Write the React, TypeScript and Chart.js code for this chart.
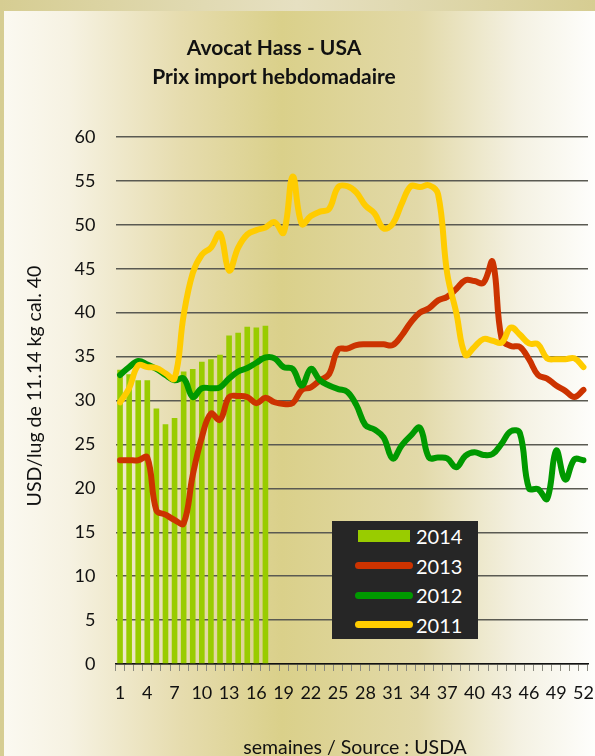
import React, { useEffect, useRef } from "react";
import { Chart, registerables } from "chart.js";

Chart.register(...registerables);

// ---- data ----
const weeks = [
  "1", "2", "3", "4", "5", "6", "7", "8", "9", "10", "11", "12", "13",
  "14", "15", "16", "17", "18", "19", "20", "21", "22", "23", "24", "25", "26",
  "27", "28", "29", "30", "31", "32", "33", "34", "35", "36", "37", "38", "39",
  "40", "41", "42", "43", "44", "45", "46", "47", "48", "49", "50", "51", "52",
];
const labelEvery = 3;
const yTicks = { min: 0, max: 60, step: 5 };

const prices2014 = [
  33.5, 33.0, 32.3, 32.3, 29.1, 27.3, 28.0, 33.3, 33.6, 34.4, 34.7, 35.2, 37.4,
  37.7, 38.4, 38.3, 38.5,
];
const prices2013 = [
  23.2, 23.2, 23.2, 23.5, 17.5, 17.0, 16.4, 16.0, 21.5, 25.8, 28.5, 27.8, 30.4,
  30.5, 30.4, 29.7, 30.3, 29.8, 29.6, 29.7, 31.2, 31.5, 32.3, 33.0, 35.8, 35.9,
  36.3, 36.4, 36.4, 36.4, 36.3, 37.4, 38.9, 40.0, 40.5, 41.4, 41.8, 42.7, 43.7,
  43.6, 43.4, 45.8, 37.0, 36.2, 36.1, 34.7, 32.9, 32.5, 31.7, 31.1, 30.4, 31.2,
];
const prices2012 = [
  32.9, 33.8, 34.5, 34.1, 33.6, 32.9, 32.3, 32.5, 30.4, 31.4, 31.4, 31.5, 32.5,
  33.3, 33.7, 34.3, 34.9, 34.8, 33.8, 33.6, 31.7, 33.6, 32.3, 31.7, 31.3, 31.0,
  29.5, 27.2, 26.7, 25.8, 23.4, 24.9, 26.0, 26.9, 23.5, 23.5, 23.4, 22.4, 23.7,
  24.1, 23.8, 23.9, 25.1, 26.5, 26.3, 20.0, 19.9, 18.8, 24.3, 21.0, 23.3, 23.2,
];
const prices2011 = [
  29.8, 31.4, 34.0, 33.8, 33.7, 33.1, 32.5, 39.7, 44.5, 46.6, 47.4, 49.0, 44.8,
  47.4, 48.9, 49.4, 49.7, 50.3, 49.1, 55.5, 50.1, 51.0, 51.5, 51.8, 54.3, 54.4,
  53.7, 52.2, 51.3, 49.6, 50.1, 52.4, 54.4, 54.3, 54.5, 53.5, 44.5, 40.0, 35.2,
  36.1, 37.0, 36.8, 36.6, 38.3, 37.5, 36.5, 36.4, 34.8, 34.7, 34.7, 34.8, 33.8,
];

const seriesNames = ["2014", "2013", "2012", "2011"];
const seriesColors = ["#99cc00", "#cc3300", "#009900", "#ffcc00"];

const titleLines = ["Avocat Hass - USA", "Prix import hebdomadaire"];
const yTitle = "USD/lug de 11.14 kg cal. 40";
const xTitle = "semaines / Source : USDA";

const FONT = "Lato, 'Open Sans', sans-serif";

export default function App() {
  const ref = useRef<HTMLCanvasElement | null>(null);

  useEffect(() => {
    if (!ref.current) return;
    const lineDs = (label: string, data: number[], color: string, order: number) => ({
      type: "line" as const,
      label,
      data,
      borderColor: color,
      backgroundColor: color,
      borderWidth: 6,
      pointRadius: 0,
      pointHoverRadius: 0,
      tension: 0.4,
      fill: false,
      borderCapStyle: "round" as const,
      borderJoinStyle: "round" as const,
      order,
    });
    const chart = new Chart(ref.current, {
      type: "bar",
      data: {
        labels: weeks,
        datasets: [
          {
            type: "bar",
            label: seriesNames[0],
            data: prices2014,
            backgroundColor: seriesColors[0],
            borderWidth: 0,
            barPercentage: 0.62,
            categoryPercentage: 1,
            order: 4,
          } as any,
          lineDs(seriesNames[1], prices2013, seriesColors[1], 3),
          lineDs(seriesNames[2], prices2012, seriesColors[2], 2),
          lineDs(seriesNames[3], prices2011, seriesColors[3], 1),
        ],
      },
      options: {
        responsive: false,
        animation: false,
        layout: { padding: { top: 137, right: 7, left: 0, bottom: 0 } },
        plugins: {
          legend: { display: false },
          tooltip: { enabled: false },
          title: { display: false },
        },
        scales: {
          x: {
            offset: true,
            grid: {
              offset: true,
              drawOnChartArea: false,
              drawTicks: true,
              tickLength: 7,
              color: "#8a8a80",
              lineWidth: 1,
            },
            border: { display: true, color: "#111111", width: 1.5 },
            ticks: {
              autoSkip: false,
              maxRotation: 0,
              minRotation: 0,
              padding: 11,
              color: "#111111",
              font: { family: FONT, size: 18 },
              callback: (_v: any, i: number) => (i % labelEvery === 0 ? weeks[i] : ""),
            },
            afterFit: (s: any) => {
              s.height = 92;
              s.paddingLeft = 0;
              s.paddingRight = 0;
            },
          },
          y: {
            min: yTicks.min,
            max: yTicks.max,
            ticks: {
              stepSize: yTicks.step,
              padding: 20,
              color: "#111111",
              font: { family: FONT, size: 18 },
            },
            grid: { drawTicks: false, color: "#5a5a52", lineWidth: 1.5 },
            border: { display: false },
            afterFit: (s: any) => {
              s.width = 115.5;
              s.paddingTop = 0;
              s.paddingBottom = 0;
            },
          },
        },
      } as any,
    });
    return () => chart.destroy();
  }, []);

  return (
    <div
      style={{
        position: "absolute",
        left: 0,
        top: 0,
        width: 595,
        height: 756,
        overflow: "hidden",
        background: "linear-gradient(to right, #d6cd92 0%, #e6e0c2 50%, #d6cd92 100%)",
        fontFamily: FONT,
      }}
    >
      <div
        style={{
          position: "absolute",
          left: 4,
          top: 11,
          right: 0,
          bottom: 0,
          background:
            "linear-gradient(to right, #fbf9f1 0%, #f6f2e2 11%, #e6dcae 30%, #dad08a 47%, #e2d9a8 70%, #f4f1e2 87%, #fefefc 100%)",
        }}
      />
      <canvas
        ref={ref}
        width={595}
        height={756}
        style={{ position: "absolute", left: 0, top: 0, width: 595, height: 756 }}
      />
      {titleLines.map((t, i) => (
        <div
          key={t}
          style={{
            position: "absolute",
            left: 0,
            width: 548,
            top: 34 + i * 29,
            textAlign: "center",
            fontWeight: 700,
            fontSize: 21,
            lineHeight: "26px",
            color: "#111",
            whiteSpace: "nowrap",
          }}
        >
          {t}
        </div>
      ))}
      <div
        style={{
          position: "absolute",
          left: 34 - 150,
          top: 386 - 12,
          width: 300,
          height: 24,
          lineHeight: "24px",
          textAlign: "center",
          fontSize: 19.5,
          color: "#111",
          transform: "rotate(-90deg)",
          whiteSpace: "nowrap",
        }}
      >
        {yTitle}
      </div>
      <div
        style={{
          position: "absolute",
          left: 355 - 150,
          width: 300,
          top: 747 - 12,
          height: 24,
          lineHeight: "24px",
          textAlign: "center",
          fontSize: 19.5,
          color: "#111",
          whiteSpace: "nowrap",
        }}
      >
        {xTitle}
      </div>
      <div
        style={{
          position: "absolute",
          left: 332,
          top: 521,
          width: 146,
          height: 118,
          background: "#262626",
        }}
      >
        {seriesNames.map((name, i) => (
          <div key={name}>
            <div
              style={
                i === 0
                  ? {
                      position: "absolute",
                      left: 26,
                      top: 15 + i * 29.5 - 6,
                      width: 52,
                      height: 12,
                      background: seriesColors[i],
                    }
                  : {
                      position: "absolute",
                      left: 23,
                      top: 15 + i * 29.5 - 3.5,
                      width: 58,
                      height: 7,
                      borderRadius: 4,
                      background: seriesColors[i],
                    }
              }
            />
            <div
              style={{
                position: "absolute",
                left: 84,
                top: 15 + i * 29.5 - 12,
                height: 24,
                lineHeight: "24px",
                fontSize: 20,
                color: "#ffffff",
              }}
            >
              {name}
            </div>
          </div>
        ))}
      </div>
    </div>
  );
}
